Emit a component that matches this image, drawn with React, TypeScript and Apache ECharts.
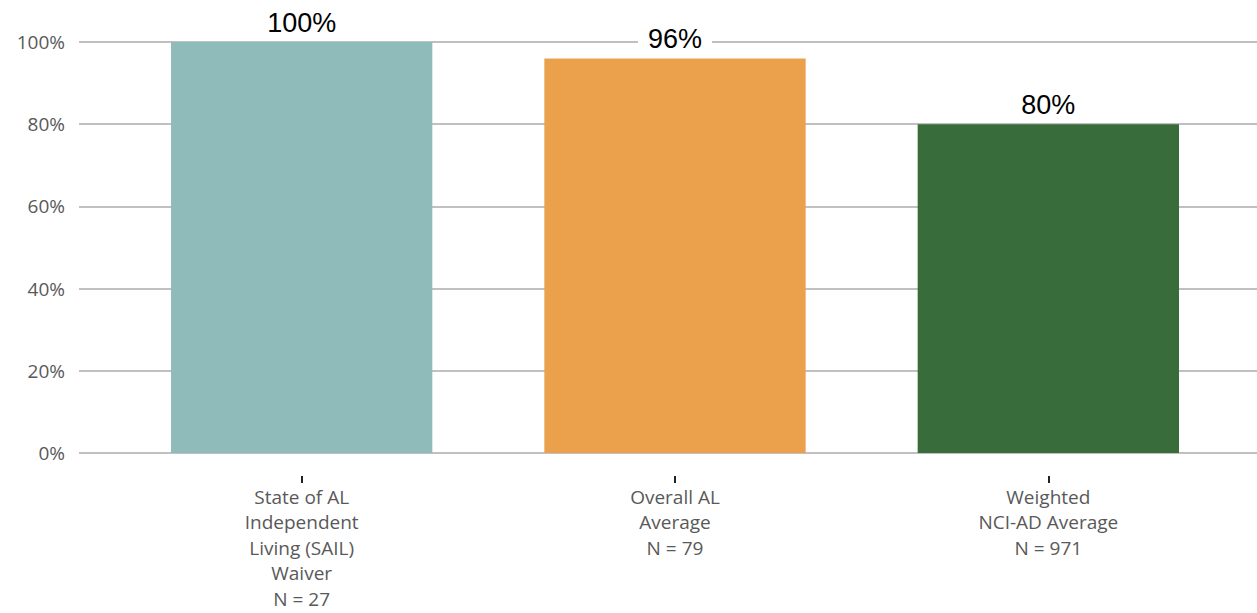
import React, { useEffect, useRef } from "react";
import * as echarts from "echarts";

const categories = [
  "State of AL\nIndependent\nLiving (SAIL)\nWaiver\nN = 27",
  "Overall AL\nAverage\nN = 79",
  "Weighted\nNCI-AD Average\nN = 971",
];
const values = [100, 96, 80];
const barColors = ["#8FBCBB", "#EBA14B", "#386C3A"];
const yTicks = [0, 20, 40, 60, 80, 100];

export default function App() {
  const ref = useRef<HTMLDivElement>(null);
  useEffect(() => {
    document.body.style.margin = "0";
    const chart = echarts.init(ref.current!, undefined, { renderer: "svg" });
    chart.setOption({
      animation: false,
      grid: [
        { left: 79, right: 0, top: 42, bottom: 160 },
        { left: 115, right: 22, top: 42, bottom: 160 },
        { left: 115, right: 22, top: 466, bottom: 137 },
      ],
      xAxis: [
        { gridIndex: 0, type: "value", show: false, min: 0, max: 1 },
        { gridIndex: 1, type: "category", data: categories, show: false },
        {
          gridIndex: 2,
          type: "category",
          data: categories,
          axisLine: { show: false },
          axisTick: { show: true, alignWithLabel: true, length: 7, lineStyle: { color: "#222", width: 2 } },
          axisLabel: {
            margin: 8,
            fontSize: 19,
            lineHeight: 25.5,
            color: "#595959",
            fontFamily: "Open Sans",
            interval: 0,
          },
        },
      ],
      yAxis: [
        {
          gridIndex: 0,
          type: "value",
          min: 0,
          max: 100,
          interval: 20,
          axisLine: { show: false },
          axisTick: { show: false },
          axisLabel: {
            formatter: (v: number) => (yTicks.includes(v) ? v + "%" : ""),
            fontSize: 19,
            color: "#595959",
            fontFamily: "Open Sans",
            margin: 14,
          },
          splitLine: { show: true, lineStyle: { color: "#C0C0C0", width: 2 } },
        },
        { gridIndex: 1, type: "value", min: 0, max: 100, show: false },
        { gridIndex: 2, type: "value", min: 0, max: 1, show: false },
      ],
      series: [
        {
          type: "bar",
          xAxisIndex: 1,
          yAxisIndex: 1,
          barWidth: "70%",
          data: values.map((v, i) => ({ value: v, itemStyle: { color: barColors[i] } })),
          label: {
            show: true,
            position: "top",
            distance: 6,
            formatter: "{c}%",
            fontSize: 27,
            color: "#000",
            fontFamily: "Liberation Sans",
            backgroundColor: "#fff",
            padding: [0, 10],
          },
          z: 3,
        },
      ],
    });
    return () => chart.dispose();
  }, []);
  return <div ref={ref} style={{ width: 1257, height: 613 }} />;
}
